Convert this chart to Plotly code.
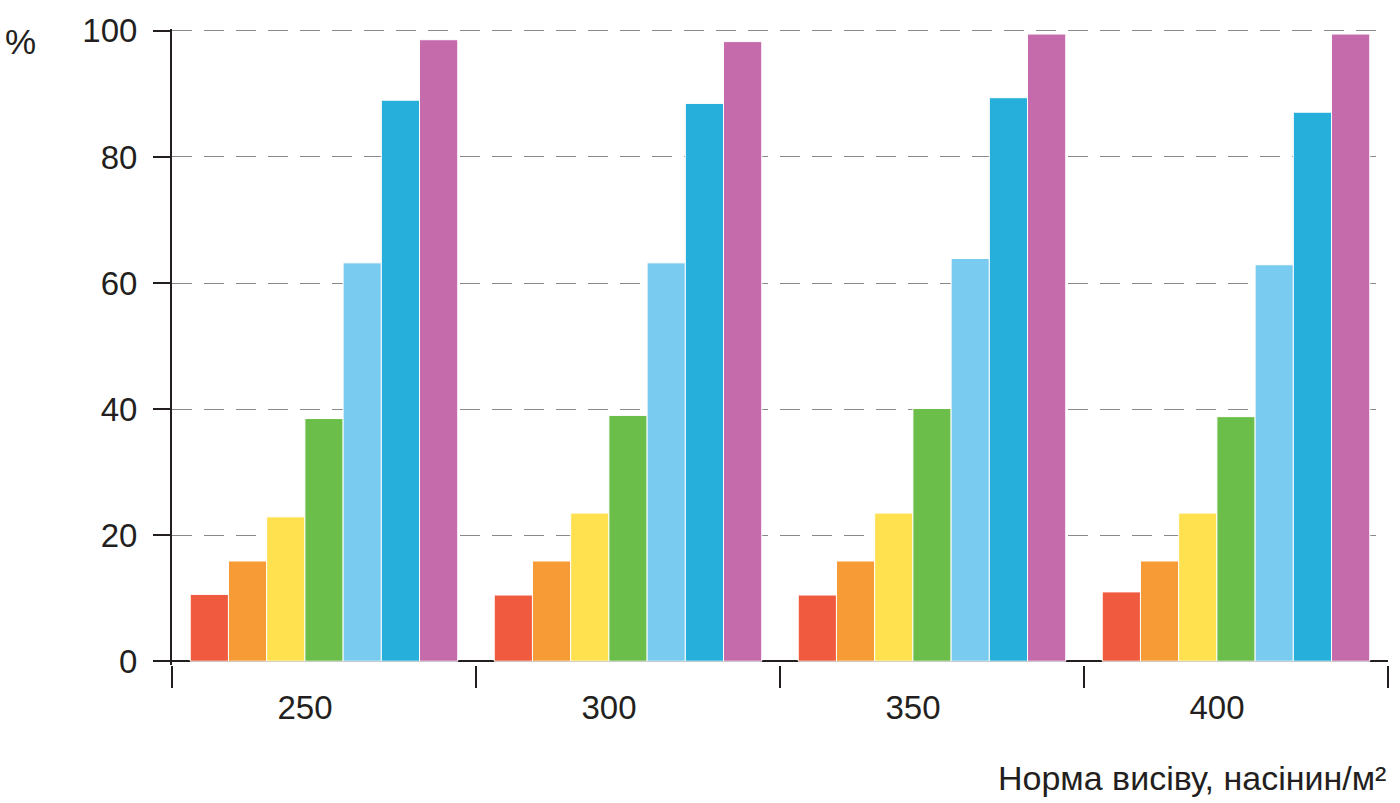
import plotly.graph_objects as go

categories = ["250", "300", "350", "400"]
series_names = ["1", "2", "3", "4", "5", "6", "7"]
series_colors = ["#F05A3F", "#F79B36", "#FFE150", "#6CBE4B", "#7ACBF0", "#27AFDB", "#C56AAB"]
values = [
    [10.6, 10.5, 10.5, 11.0],
    [15.9, 15.9, 15.9, 15.9],
    [22.9, 23.5, 23.5, 23.5],
    [38.5, 39.0, 40.1, 38.8],
    [63.2, 63.2, 63.9, 62.9],
    [89.0, 88.5, 89.4, 87.1],
    [98.6, 98.3, 99.5, 99.5],
]
y_ticks = [0, 20, 40, 60, 80, 100]

FONT = "Liberation Sans, Arial, Helvetica, sans-serif"
FS = 33

fig = go.Figure()
for name, color, vals in zip(series_names, series_colors, values):
    fig.add_trace(go.Bar(
        x=categories, y=vals, name=name,
        marker=dict(color=color, line=dict(color="white", width=1)),
        showlegend=False,
    ))

fig.update_layout(
    width=1400, height=803,
    margin=dict(l=172, r=12, t=25, b=138),
    paper_bgcolor="white", plot_bgcolor="white",
    barmode="group", bargap=0.12, bargroupgap=0,
    font=dict(family=FONT, size=FS, color="#231F20"),
)
fig.update_xaxes(
    type="category",
    showline=False,
    showgrid=False,
    ticks="outside", tickson="boundaries", ticklen=22, tickwidth=2, tickcolor="#231F20",
    tickfont=dict(size=FS, color="#231F20"),
    ticklabelshift=-19,
    ticklabelstandoff=20,
)
fig.update_yaxes(
    range=[-0.6, 100.3],
    tickvals=y_ticks,
    showline=True, linecolor="#231F20", linewidth=2,
    ticks="outside", ticklen=17, tickwidth=2, tickcolor="#231F20",
    tickfont=dict(size=FS, color="#231F20"),
    ticklabelstandoff=9,
    showgrid=True, gridcolor="#8A8A8A", gridwidth=1.2, griddash="20px,12px",
    zeroline=True, zerolinecolor="#231F20", zerolinewidth=2,
)
fig.add_annotation(
    text="%", xref="paper", yref="paper", x=-0.12, y=1.0,
    xanchor="center", yanchor="middle", showarrow=False,
    font=dict(size=35, color="#231F20"), yshift=-12, xshift=-6,
)
fig.add_annotation(
    text="Норма висіву, насінин/м²", xref="paper", yref="paper", x=1.0, y=0,
    xanchor="right", yanchor="middle", showarrow=False,
    font=dict(size=34, color="#231F20"), yshift=-(778 - 665),
)

fig.write_html("out.html")
